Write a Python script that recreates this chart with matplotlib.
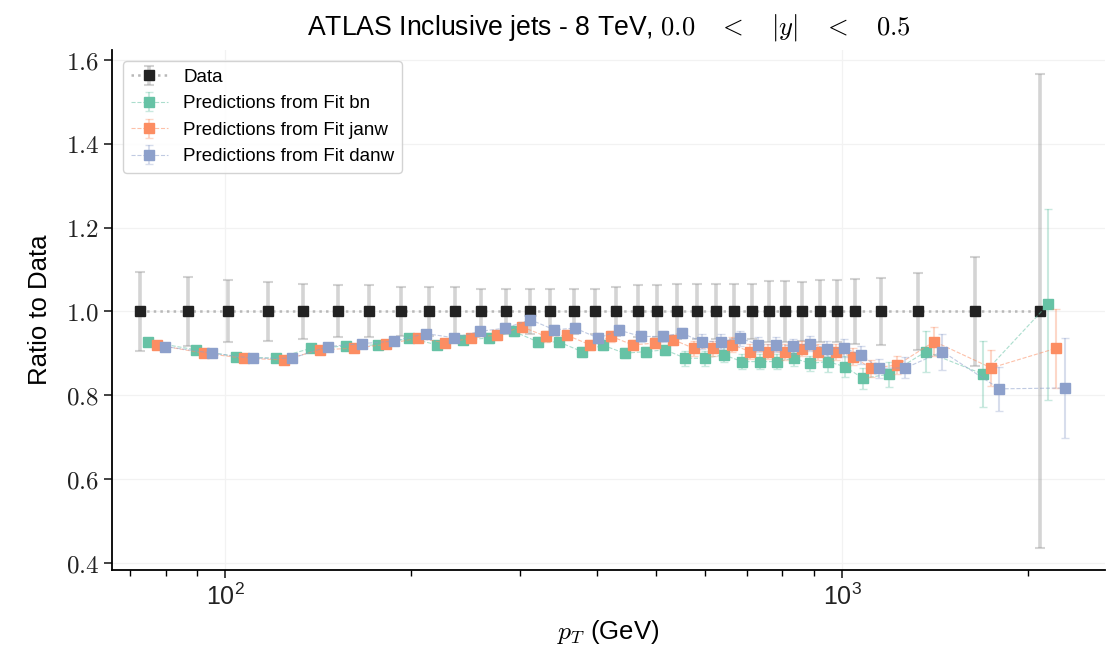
import matplotlib

matplotlib.use("Agg")
import matplotlib.pyplot as plt
from matplotlib.ticker import FixedLocator, FormatStrFormatter, LogLocator


plt.rcParams["font.family"] = ["Liberation Sans", "DejaVu Sans"]
plt.rcParams["mathtext.fontset"] = "cm"


PT_BINS = [
    72.8, 86.9, 101.0, 117.1, 133.8, 152.1, 171.2, 192.9, 213.9, 235.7,
    259.4, 284.9, 311.6, 336.6, 367.2, 397.2, 430.6, 467.0, 501.2, 540.2,
    580.6, 624.2, 667.5, 713.1, 759.8, 809.0, 861.1, 919.9, 979.2, 1048.6,
    1155.8, 1327.0, 1641.0, 2093.0,
]

DATA_RATIO = [1.0] * len(PT_BINS)
DATA_ERR = [
    0.095, 0.083, 0.074, 0.070, 0.066, 0.062, 0.062, 0.058, 0.058, 0.058,
    0.054, 0.054, 0.054, 0.054, 0.054, 0.054, 0.058, 0.062, 0.062, 0.066,
    0.066, 0.066, 0.066, 0.066, 0.072, 0.072, 0.071, 0.074, 0.074, 0.078,
    0.080, 0.092, 0.130, 0.566,
]

FIT_BN = [
    0.928, 0.908, 0.892, 0.888, 0.912, 0.917, 0.920, 0.936, 0.920, 0.932,
    0.936, 0.952, 0.927, 0.927, 0.904, 0.919, 0.900, 0.904, 0.908, 0.888,
    0.888, 0.896, 0.880, 0.880, 0.880, 0.888, 0.876, 0.880, 0.868, 0.840,
    0.850, 0.904, 0.850, 1.017,
]
FIT_JANW = [
    0.920, 0.900, 0.888, 0.884, 0.908, 0.912, 0.921, 0.936, 0.925, 0.936,
    0.944, 0.963, 0.940, 0.943, 0.920, 0.940, 0.920, 0.924, 0.932, 0.912,
    0.912, 0.920, 0.904, 0.904, 0.903, 0.911, 0.903, 0.903, 0.892, 0.864,
    0.872, 0.928, 0.865, 0.912,
]
FIT_DANW = [
    0.916, 0.900, 0.888, 0.888, 0.916, 0.923, 0.929, 0.947, 0.937, 0.952,
    0.960, 0.980, 0.956, 0.960, 0.936, 0.955, 0.940, 0.940, 0.948, 0.928,
    0.928, 0.936, 0.920, 0.920, 0.917, 0.923, 0.911, 0.912, 0.896, 0.864,
    0.865, 0.904, 0.815, 0.817,
]

ERR_BN = [
    0.008, 0.008, 0.008, 0.008, 0.008, 0.008, 0.008, 0.008, 0.008, 0.008,
    0.012, 0.012, 0.012, 0.012, 0.012, 0.012, 0.012, 0.012, 0.012, 0.018,
    0.018, 0.018, 0.018, 0.018, 0.018, 0.018, 0.018, 0.025, 0.025, 0.025,
    0.030, 0.048, 0.079, 0.228,
]
ERR_JANW = [
    0.008, 0.008, 0.008, 0.008, 0.008, 0.008, 0.008, 0.008, 0.008, 0.008,
    0.012, 0.012, 0.012, 0.012, 0.012, 0.012, 0.012, 0.012, 0.012, 0.018,
    0.018, 0.018, 0.018, 0.018, 0.018, 0.018, 0.018, 0.020, 0.020, 0.020,
    0.022, 0.035, 0.043, 0.094,
]
ERR_DANW = [
    0.008, 0.008, 0.008, 0.008, 0.008, 0.008, 0.008, 0.008, 0.008, 0.008,
    0.012, 0.012, 0.012, 0.012, 0.012, 0.012, 0.012, 0.012, 0.012, 0.018,
    0.018, 0.018, 0.018, 0.018, 0.018, 0.018, 0.018, 0.022, 0.022, 0.022,
    0.025, 0.043, 0.052, 0.120,
]

SERIES = [
    ("Predictions from Fit bn", FIT_BN, ERR_BN, "#66c2a5"),
    ("Predictions from Fit janw", FIT_JANW, ERR_JANW, "#fc8d62"),
    ("Predictions from Fit danw", FIT_DANW, ERR_DANW, "#8da0cb"),
]


def with_alpha(hex_color: str, alpha: float) -> tuple:
    rgb = matplotlib.colors.to_rgb(hex_color)
    return (*rgb, alpha)


fig = plt.figure(figsize=(11.15, 6.5), dpi=100)
ax = fig.add_axes([0.1004, 0.1231, 0.8906, 0.8000])

ax.errorbar(
    PT_BINS, DATA_RATIO, yerr=DATA_ERR,
    marker="s", markersize=7.5, linestyle=":", linewidth=1.8,
    color="#b8b8b8", markerfacecolor="#222222", markeredgecolor="#222222",
    ecolor=(0.6, 0.6, 0.6, 0.42), elinewidth=2.6, capsize=3.5, capthick=1.5,
    label="Data", zorder=3,
)

# small multiplicative shift so the fits don't sit on top of each other
shift = 1.031
for k, (label, values, errs, color) in enumerate(SERIES, start=1):
    x_shifted = [p * shift ** k for p in PT_BINS]
    ax.errorbar(
        x_shifted, values, yerr=errs,
        marker="s", markersize=6.8, linestyle="--", linewidth=0.8,
        color=with_alpha(color, 0.55), markerfacecolor=color, markeredgecolor=color,
        ecolor=with_alpha(color, 0.35), elinewidth=1.5, capsize=3, capthick=1,
        label=label, zorder=3 + k,
    )

ax.set_xscale("log")
ax.set_xlim(65.5, 2667)
ax.set_ylim(0.3825, 1.624)

ax.xaxis.set_major_locator(LogLocator(base=10))
ax.xaxis.set_minor_locator(LogLocator(base=10, subs=range(2, 10)))
ax.yaxis.set_major_locator(FixedLocator([0.4, 0.6, 0.8, 1.0, 1.2, 1.4, 1.6]))
ax.yaxis.set_major_formatter(FormatStrFormatter("$%.1f$"))

ax.tick_params(axis="both", which="major", labelsize=18, length=6, width=1.2, colors="#222222")
ax.tick_params(axis="x", which="minor", length=4, width=1.0)
ax.spines[["top", "right"]].set_visible(False)
ax.spines[["left", "bottom"]].set_linewidth(1.3)

ax.grid(True, which="major", color="#f2f2f2", linewidth=0.9)
ax.set_axisbelow(True)

ax.set_title(r"ATLAS Inclusive jets - 8 TeV, $0.0\quad<\quad|y|\quad<\quad0.5$", fontsize=19.2, pad=11)
ax.set_xlabel(r"$p_T$ (GeV)", fontsize=18.5, labelpad=6)
ax.set_ylabel("Ratio to Data", fontsize=18.5, labelpad=10)

ax.legend(
    loc="upper left", fontsize=13.5, frameon=True, fancybox=True,
    edgecolor="#cccccc", framealpha=0.85, borderaxespad=0.6,
)

fig.savefig("out.png", dpi=100)
plt.close(fig)
